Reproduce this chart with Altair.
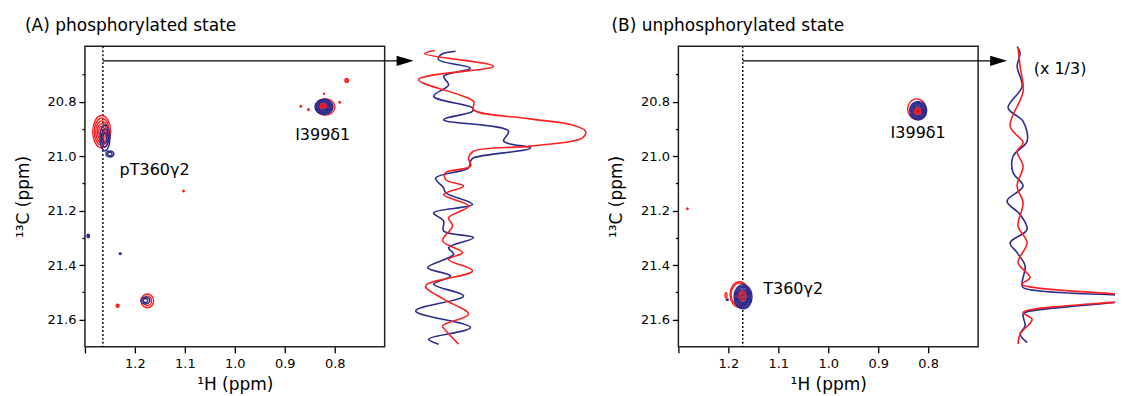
import altair as alt
import pandas as pd

FONT = "DejaVu Sans"
RED = "#ff1f1f"
BLUE = "#2b2b8c"

# ---------------- 2D contour peaks: panel A (phosphorylated) ----------------
# each peak: spectrum, 1H ppm, 13C ppm, contour-ring widths (ppm along 1H), outline form
A_spec = ["red", "blue", "blue", "red", "blue", "red", "red", "blue", "red", "blue", "blue",
          "red", "red", "red", "red", "red", "red"]
A_h = [1.2664, 1.260, 1.250, 0.819, 0.8214, 0.823, 1.175, 1.179, 1.2346, 1.2294, 1.2934,
       1.1026, 0.868, 0.8526, 0.8214, 0.790, 0.776]
A_c = [20.910, 20.933, 20.992, 20.819, 20.819, 20.816, 21.531, 21.530, 21.549, 21.358, 21.293,
       21.128, 20.817, 20.829, 20.771, 20.802, 20.722]
A_widths = [[0.036, 0.030, 0.024, 0.018, 0.012, 0.006], [0.020, 0.014, 0.008], [0.016, 0.009],
            [0.039], [0.036, 0.032, 0.028, 0.024, 0.020, 0.016, 0.012, 0.008, 0.004],
            [0.012, 0.005],
            [0.025, 0.017], [0.018, 0.010], [0.006, 0.003], [0.004], [0.005, 0.002],
            [0.003], [0.003], [0.003], [0.002], [0.003], [0.007, 0.003]]
A_form = ["t", "u", "f", "r", "r", "r", "o", "f", "o", "f", "e", "o", "o", "o", "o", "o", "o"]

# ---------------- 2D contour peaks: panel B (unphosphorylated) ----------------
B_spec = ["red", "blue", "red", "red", "blue", "red", "red", "blue", "red"]
B_h = [0.8226, 0.820, 0.821, 1.1776, 1.1706, 1.172, 1.2046, 1.202, 1.282]
B_c = [20.827, 20.833, 20.835, 21.508, 21.516, 21.512, 21.511, 21.527, 21.193]
B_widths = [[0.037], [0.034, 0.030, 0.026, 0.022, 0.018, 0.014, 0.010, 0.006, 0.003],
            [0.012, 0.006],
            [0.038, 0.034], [0.036, 0.032, 0.028, 0.024, 0.020, 0.016, 0.012, 0.008, 0.004],
            [0.014, 0.007],
            [0.004], [0.004], [0.003]]
B_form = ["o", "o", "o", "e", "e", "e", "u", "f", "o"]

# ---------------- peak labels ----------------
A_label = ["I399\u03b41", "pT360\u03b32"]
A_label_h = [0.824, 1.1606]
A_label_c = [20.921, 21.049]
B_label = ["I399\u03b41", "T360\u03b32"]
B_label_h = [0.820, 1.0702]
B_label_c = [20.915, 21.489]

# ---------------- slice positions / arrows (1H ppm, 13C ppm) ----------------
A_slice_h = 1.264
B_slice_h = 1.1712
arrow_c = 20.65
arrow_end_h = 0.674
arrow_tip_h = 0.659

# ---------------- 1D slices (13C ppm, intensity) ----------------
A_red_c = [20.612, 20.624, 20.670, 20.719, 20.799, 20.829, 20.863, 20.884, 20.908, 20.933,
           20.963, 20.982, 21.006, 21.037, 21.061, 21.086, 21.110, 21.141, 21.183, 21.226,
           21.256, 21.311, 21.354, 21.379, 21.421, 21.476, 21.525, 21.580, 21.623, 21.647, 21.690]
A_red_i = [-6, -16, 53, -22, 33, 33, 90, 130, 145, 142, 90, 33, 28, 30, 5, 5, 23, 3, 28, 8,
           12, 2, 22, 8, 32, -15, 3, 28, 2, 7, 18]
A_blue_c = [20.615, 20.628, 20.646, 20.677, 20.707, 20.738, 20.780, 20.823, 20.835, 20.866,
            20.908, 20.945, 20.970, 21.006, 21.018, 21.043, 21.080, 21.116, 21.134, 21.177,
            21.208, 21.238, 21.275, 21.299, 21.336, 21.360, 21.409, 21.440, 21.470, 21.513,
            21.568, 21.629, 21.672, 21.690]
A_blue_i = [15, 0, -2, 30, 3, 8, -7, 32, 32, 3, 68, 63, 90, 33, 30, 28, -5, 3, 5, 32, -7, 3,
            3, 33, 8, 13, -13, 10, -7, 23, -25, 30, -12, -2]

B_red_c = [20.603, 20.670, 20.762, 20.890, 20.951, 20.982, 21.037, 21.110, 21.171, 21.256,
           21.318, 21.391, 21.446, 21.470, 21.520, 21.574, 21.599, 21.653, 21.690]
B_red_i = [-2, 0, 3, -10, 3, -3, 3, -3, 3, -2, 7, -2, 10, 2, 125, 3, 12, 0, -2]
B_blue_c = [20.597, 20.622, 20.670, 20.744, 20.823, 20.872, 20.945, 21.000, 21.061, 21.110,
            21.165, 21.214, 21.269, 21.318, 21.354, 21.403, 21.464, 21.482, 21.520, 21.571,
            21.580, 21.623, 21.653, 21.684]
B_blue_i = [-3, 0, -3, 2, -12, 3, 7, -7, -7, 3, -13, 0, 7, -10, -3, 5, 2, 3, 125, 7, 3, 5, 0, 7]

scale_note = "(x 1/3)"
scale_note_i = 40
scale_note_c = 20.68


# ---------------- helpers ----------------
def ellipse(b):
    k = 0.5523
    kb = round(k * b, 3)
    return (f"M1,0 C1,{kb} {k},{b} 0,{b} C-{k},{b} -1,{kb} -1,0 "
            f"C-1,-{kb} -{k},-{b} 0,-{b} C{k},-{b} 1,-{kb} 1,0 Z")


FORMS = ["r", "o", "e", "t", "u", "f"]
FORM_PATHS = [ellipse(0.85), ellipse(1.1), ellipse(1.35), ellipse(1.8), ellipse(2.6), ellipse(0.75)]


def rings(spec, h, c, widths, form):
    rows = []
    for s, hh, cc, ws, f in zip(spec, h, c, widths, form):
        for w in ws:
            rows.append({"spec": s, "h": hh, "c": cc, "w": w, "form": f})
    return pd.DataFrame(rows)


XS = alt.Scale(domain=[0.7, 1.3], reverse=True, nice=False, zero=False)
YS = alt.Scale(domain=[20.596, 21.7], reverse=True, nice=False, zero=False)
COLS = alt.Scale(domain=["red", "blue"], range=[RED, BLUE])

MAJOR = "abs(round(datum.value*10)) % 2 == 0"

x_axis = alt.Axis(values=[1.3, 1.2, 1.1, 1.0, 0.9, 0.8],
                  labelExpr="datum.value > 1.25 ? '' : format(datum.value, '.1f')",
                  title="\u00b9H (ppm)", tickSize=6, domain=False, grid=False,
                  labelPadding=5, titlePadding=6)
y_axis = alt.Axis(values=[20.7, 20.8, 20.9, 21.0, 21.1, 21.2, 21.3, 21.4, 21.5, 21.6],
                  labelExpr=MAJOR + " ? format(datum.value, '.1f') : ''",
                  tickSize={"condition": {"test": MAJOR, "value": 6}, "value": 3},
                  title="\u00b9\u00b3C (ppm)", domain=False, grid=False,
                  labelPadding=3, titlePadding=15)


def main_panel(df, slice_h, labels, lab_h, lab_c, title, dx):
    base_x = alt.X("h:Q", scale=XS, axis=x_axis)
    base_y = alt.Y("c:Q", scale=YS, axis=y_axis)
    contours = alt.Chart(df).mark_point(filled=False, opacity=1, strokeWidth=1.4).encode(
        x=base_x, y=base_y,
        color=alt.Color("spec:N", scale=COLS, legend=None),
        shape=alt.Shape("form:N", scale=alt.Scale(domain=FORMS, range=FORM_PATHS), legend=None),
        size=alt.Size("w:Q", scale=alt.Scale(type="pow", exponent=2, domain=[0, 0.04],
                                             range=[0, 400]), legend=None),
    )
    sdf = pd.DataFrame({"h": [slice_h], "c": [arrow_c], "h2": [arrow_end_h], "tip": [arrow_tip_h]})
    dash = alt.Chart(sdf).mark_rule(color="black", strokeDash=[2, 2], strokeWidth=1.4).encode(
        x=alt.X("h:Q", scale=XS, axis=x_axis))
    arrow = alt.Chart(sdf).mark_rule(color="black", strokeWidth=1.3).encode(
        x=alt.X("h:Q", scale=XS, axis=x_axis), x2="h2:Q", y=alt.Y("c:Q", scale=YS, axis=y_axis))
    head = alt.Chart(sdf).mark_point(shape="M-1,-0.6 L1,0 L-1,0.6 Z", filled=True, opacity=1,
                                     color="black", size=289).encode(
        x=alt.X("tip:Q", scale=XS, axis=x_axis), y=alt.Y("c:Q", scale=YS, axis=y_axis))
    ldf = pd.DataFrame({"t": labels, "h": lab_h, "c": lab_c})
    text = alt.Chart(ldf).mark_text(font=FONT, fontSize=16, color="black").encode(
        x=alt.X("h:Q", scale=XS, axis=x_axis), y=alt.Y("c:Q", scale=YS, axis=y_axis), text="t:N")
    return alt.layer(dash, arrow, head, contours, text).properties(
        width=300, height=301,
        title=alt.TitleParams(title, anchor="start", frame="group", dx=dx, font=FONT,
                              fontSize=17, fontWeight="normal", offset=10),
        view=alt.ViewBackground(stroke="#222222", strokeWidth=1.5))


def trace_panel(rc, ri, bc, bi, xdom, width, note=None):
    xs = alt.Scale(domain=xdom, nice=False, zero=False)
    d_red = pd.DataFrame({"c": rc, "i": ri, "k": range(len(rc))})
    d_blue = pd.DataFrame({"c": bc, "i": bi, "k": range(len(bc))})
    layers = []
    for d, col in ((d_blue, BLUE), (d_red, RED)):
        layers.append(alt.Chart(d).mark_line(color=col, strokeWidth=1.6, clip=True,
                                             interpolate="catmull-rom").encode(
            x=alt.X("i:Q", scale=xs, axis=None),
            y=alt.Y("c:Q", scale=YS, axis=None),
            order="k:Q"))
    if note is not None:
        ndf = pd.DataFrame({"t": [note], "i": [scale_note_i], "c": [scale_note_c]})
        layers.append(alt.Chart(ndf).mark_text(font=FONT, fontSize=16, color="black").encode(
            x=alt.X("i:Q", scale=xs, axis=None), y=alt.Y("c:Q", scale=YS, axis=None), text="t:N"))
    return alt.layer(*layers).properties(
        width=width, height=301, view=alt.ViewBackground(strokeOpacity=0))


dfA = rings(A_spec, A_h, A_c, A_widths, A_form)
dfB = rings(B_spec, B_h, B_c, B_widths, B_form)

mainA = main_panel(dfA, A_slice_h, A_label, A_label_h, A_label_c, "(A) phosphorylated state", -60)
traceA = trace_panel(A_red_c, A_red_i, A_blue_c, A_blue_i, [-56, 238], 294)
mainB = main_panel(dfB, B_slice_h, B_label, B_label_h, B_label_c, "(B) unphosphorylated state", -67)
traceB = trace_panel(B_red_c, B_red_i, B_blue_c, B_blue_i, [-42, 95], 137, note=scale_note)

chart = alt.hconcat(mainA, traceA, mainB, traceB, spacing=0, bounds="flush").properties(
    padding={"left": 5, "top": 8, "right": 0, "bottom": 0}
).configure_axis(
    labelFont=FONT, labelFontSize=13, labelColor="black", titleFont=FONT, titleFontSize=17,
    titleFontWeight="normal", titleColor="black", tickColor="black", tickWidth=1.3
).configure_view(stroke="#222222")

chart.save("out.html", embed_options={"renderer": "svg", "actions": False})
